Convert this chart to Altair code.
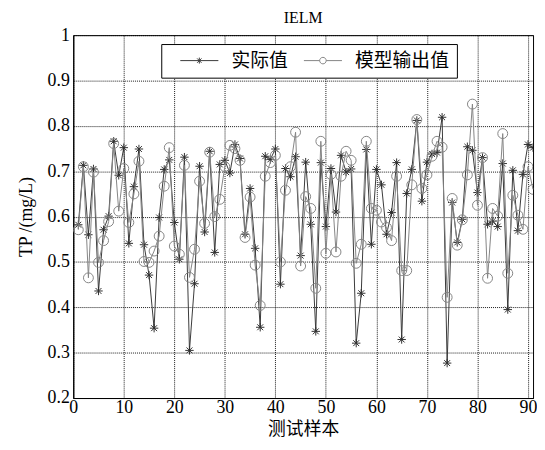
import altair as alt
import pandas as pd

# ---------------- data ----------------
samples = list(range(1, 92))

actual = [
    0.582, 0.713, 0.560, 0.705, 0.436, 0.571, 0.601, 0.766, 0.691, 0.752,
    0.541, 0.666, 0.749, 0.538, 0.471, 0.354, 0.598, 0.704, 0.725, 0.587,
    0.506, 0.731, 0.305, 0.452, 0.711, 0.566, 0.744, 0.521, 0.715, 0.724,
    0.696, 0.759, 0.728, 0.561, 0.662, 0.530, 0.356, 0.733, 0.726, 0.749,
    0.451, 0.706, 0.688, 0.732, 0.514, 0.720, 0.583, 0.347, 0.719, 0.578,
    0.706, 0.610, 0.735, 0.698, 0.705, 0.321, 0.431, 0.748, 0.539, 0.704,
    0.670, 0.561, 0.609, 0.719, 0.329, 0.651, 0.704, 0.812, 0.634, 0.720,
    0.738, 0.741, 0.819, 0.277, 0.631, 0.543, 0.594, 0.754, 0.746, 0.653,
    0.730, 0.583, 0.590, 0.578, 0.717, 0.395, 0.702, 0.569, 0.693, 0.759,
    0.752,
]

model = [
    0.571, 0.710, 0.465, 0.698, 0.499, 0.547, 0.589, 0.761, 0.612, 0.706,
    0.587, 0.650, 0.722, 0.501, 0.499, 0.524, 0.557, 0.667, 0.752, 0.535,
    0.517, 0.713, 0.466, 0.528, 0.678, 0.585, 0.742, 0.600, 0.638, 0.710,
    0.757, 0.750, 0.724, 0.554, 0.643, 0.493, 0.404, 0.689, 0.719, 0.735,
    0.500, 0.658, 0.710, 0.786, 0.491, 0.644, 0.618, 0.442, 0.766, 0.519,
    0.693, 0.522, 0.689, 0.744, 0.724, 0.497, 0.539, 0.766, 0.618, 0.614,
    0.588, 0.576, 0.547, 0.689, 0.481, 0.481, 0.670, 0.814, 0.662, 0.692,
    0.733, 0.766, 0.753, 0.422, 0.640, 0.537, 0.593, 0.692, 0.848, 0.625,
    0.730, 0.464, 0.618, 0.601, 0.783, 0.475, 0.647, 0.603, 0.572, 0.710,
    0.660,
]

series_names = ["实际值", "模型输出值"]
x_ticks = [0, 10, 20, 30, 40, 50, 60, 70, 80, 90]
y_ticks = [0.2, 0.3, 0.4, 0.5, 0.6, 0.7, 0.8, 0.9, 1.0]

df = pd.DataFrame({
    "sample": samples + samples,
    "value": actual + model,
    "series": [series_names[0]] * len(actual) + [series_names[1]] * len(model),
})

# ---------------- styling ----------------
FONT = "'Liberation Serif', 'Times New Roman', 'Noto Sans CJK SC', serif"
C_ACT = "#3a3a3a"
C_MOD = "#858585"

STAR = "M-1,0L1,0M0,-1L0,1M-0.7,-0.7L0.7,0.7M-0.7,0.7L0.7,-0.7"
LEG_STAR = ("M-3.5,0L3.5,0M0,-0.55L0,0.55M-0.4,-0.4L0.4,0.4M-0.4,0.4L0.4,-0.4")
LEG_CIRCLE = ("M-3.5,0L-0.6,0M0.6,0L3.5,0"
              "M-0.6,0A0.6,0.6,0,1,1,0.6,0A0.6,0.6,0,1,1,-0.6,0")

x_enc = alt.X(
    "sample:Q",
    scale=alt.Scale(domain=[0, 91], nice=False, zero=False),
    axis=alt.Axis(values=x_ticks, format="d", labelFlush=False, ticks=False,
                  labelPadding=1, titlePadding=4),
    title="测试样本",
)
y_enc = alt.Y(
    "value:Q",
    scale=alt.Scale(domain=[0.2, 1.0], nice=False, zero=False),
    axis=alt.Axis(values=y_ticks, format=".1~f", labelFlush=False, ticks=False,
                  labelPadding=4, titlePadding=12),
    title="TP /(mg/L)",
)

base = alt.Chart(df)

line_act = base.transform_filter(alt.datum.series == series_names[0]).mark_line(
    color=C_ACT, strokeWidth=1).encode(x=x_enc, y=y_enc)
star_act = base.transform_filter(alt.datum.series == series_names[0]).mark_point(
    shape=STAR, size=72, filled=False, color="#303030", strokeWidth=1, opacity=1,
    clip=True,
).encode(x=x_enc, y=y_enc)
line_mod = base.transform_filter(alt.datum.series == series_names[1]).mark_line(
    color=C_MOD, strokeWidth=1).encode(x=x_enc, y=y_enc)
circ_mod = base.transform_filter(alt.datum.series == series_names[1]).mark_point(
    shape="circle", size=100, filled=False, color=C_MOD, strokeWidth=1, opacity=1,
    clip=True,
).encode(x=x_enc, y=y_enc)

legend = alt.Legend(
    orient="none", legendX=89, legendY=9, direction="horizontal", title=None,
    fillColor="white", strokeColor="black", padding=7,
    symbolSize=121, symbolStrokeWidth=1, symbolOffset=22, labelOffset=23,
    columnPadding=3, labelFont=FONT, labelFontSize=19, labelColor="black",
    symbolOpacity=1,
)

legend_layer = base.transform_filter("false").mark_point(
    filled=False, size=121, strokeWidth=1
).encode(
    x=x_enc, y=y_enc,
    color=alt.Color("series:N", scale=alt.Scale(domain=series_names, range=[C_ACT, C_MOD]),
                    legend=legend),
    shape=alt.Shape("series:N", scale=alt.Scale(domain=series_names, range=[LEG_STAR, LEG_CIRCLE]),
                    legend=legend),
)

chart = alt.layer(line_act, star_act, line_mod, circ_mod, legend_layer).properties(
    width=535, height=433,
    autosize=alt.AutoSizeParams(type="fit", contains="padding"),
    title=alt.TitleParams("IELM", font=FONT, fontSize=16, fontWeight="normal",
                          offset=0, color="black"),
    padding={"left": 9, "top": 0, "right": 0, "bottom": 0},
).configure_axis(
    labelFont=FONT, labelFontSize=18, labelColor="black",
    titleFont=FONT, titleFontSize=18, titleFontWeight="normal", titleColor="black",
    grid=True, gridColor="#000000", gridDash=[1, 1], gridOpacity=0.9, gridWidth=1,
    domain=True, domainColor="black", domainWidth=1,
).configure_view(
    stroke="black", strokeWidth=1,
)

chart.save("out.html", embed_options={"renderer": "svg", "actions": False})
